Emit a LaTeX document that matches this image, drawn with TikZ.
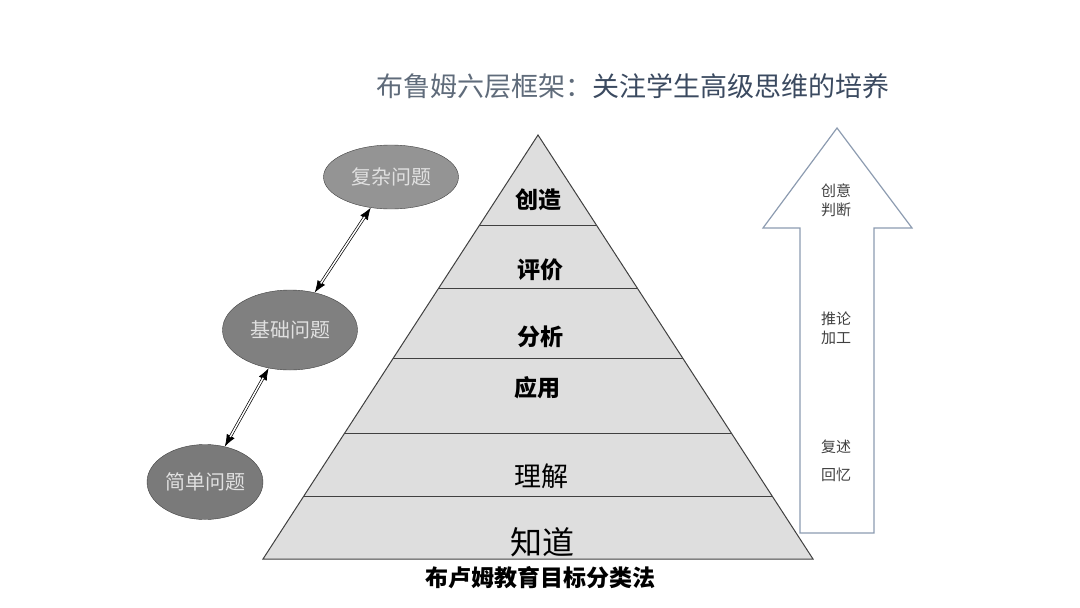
\documentclass[tikz,border=0pt]{standalone}
\usepackage{fontspec}
\newfontfamily\cjk{Noto Sans CJK SC}
\usetikzlibrary{shapes.geometric,arrows.meta}
\definecolor{layergray}{HTML}{DEDEDE}
\definecolor{edgegray}{HTML}{404040}
\definecolor{titlelight}{HTML}{5F6B7A}
\definecolor{titledark}{HTML}{3B4A60}
\definecolor{arrowblue}{HTML}{8C9BB0}
\tikzset{
  question/.style={ellipse,draw=edgegray,fill=#1,text=black!12,inner sep=0pt,
    font=\cjk\fontsize{20}{20}\selectfont},
  level/.style={font=\cjk\bfseries\fontsize{23}{23}\selectfont},
  linktips/.style={line width=0.7pt,
    {Latex[length=12pt,width=9pt]}-{Latex[length=12pt,width=9pt]}},
  link/.style={double,double distance=1.5pt,line width=0.7pt,
    shorten <=11pt,shorten >=11pt},
  thought/.style={align=center,text=edgegray,font=\cjk\fontsize{15}{19}\selectfont},
}

\begin{document}
\begin{tikzpicture}[x=1pt,y=-1pt]
	\useasboundingbox (0,0) rectangle (1080,608);
	% title
	\node (title) at (633,86) {\cjk\fontsize{27}{27}\selectfont
		{\color{titlelight}布鲁姆六层框架：}{\color{titledark}关注学生高级思维的培养}};
	% pyramid
	\coordinate (apex) at (538,135);
	\coordinate (baseL) at (263,559);
	\coordinate (baseR) at (813,559);
	\fill[layergray] (apex) -- (baseR) -- (baseL) -- cycle;
	\begin{scope}
		\clip (apex) -- (baseR) -- (baseL) -- cycle;
		\foreach \y in {225,288,358,433,496}
			\draw[edgegray,line width=1pt] (250,\y) -- (830,\y);
	\end{scope}
	\draw[edgegray,line width=1pt] (apex) -- (baseR) -- (baseL) -- cycle;
	\node[level] (create) at (538,200) {创造};
	\node[level] (evaluate) at (540,270) {评价};
	\node[level] (analyze) at (540,337) {分析};
	\node[level] (apply) at (537,388) {应用};
	\node[font=\cjk\fontsize{27}{27}\selectfont] (understand) at (541,476) {理解};
	\node[font=\cjk\fontsize{32}{32}\selectfont] (remember) at (542,542) {知道};
	\node[font=\cjk\bfseries\fontsize{23}{23}\selectfont] (caption) at (540,578) {布卢姆教育目标分类法};
	% questions
	\node[question=black!52,minimum width=116pt,minimum height=75pt] (simple) at (205,482) {简单问题};
	\node[question=black!50,minimum width=135pt,minimum height=80pt] (basic) at (290,330) {基础问题};
	\node[question=black!42,minimum width=135pt,minimum height=64pt] (complex) at (391,177) {复杂问题};
	\draw[linktips] (simple) -- (basic);
	\draw[link] (simple) -- (basic);
	\draw[linktips] (basic) -- (complex);
	\draw[link] (basic) -- (complex);
	% big arrow
	\draw[arrowblue,line width=1.2pt,line join=miter]
		(837,128) -- (912,228) -- (874,228) -- (874,533) -- (800,533) -- (800,228) -- (763,228) -- cycle;
	\node[thought] (high) at (836,200) {创意\\判断};
	\node[thought] (mid) at (836,328) {推论\\加工};
	\node[thought] (low) at (836,461) {复述\\[9pt]回忆};
\end{tikzpicture}
\end{document}
